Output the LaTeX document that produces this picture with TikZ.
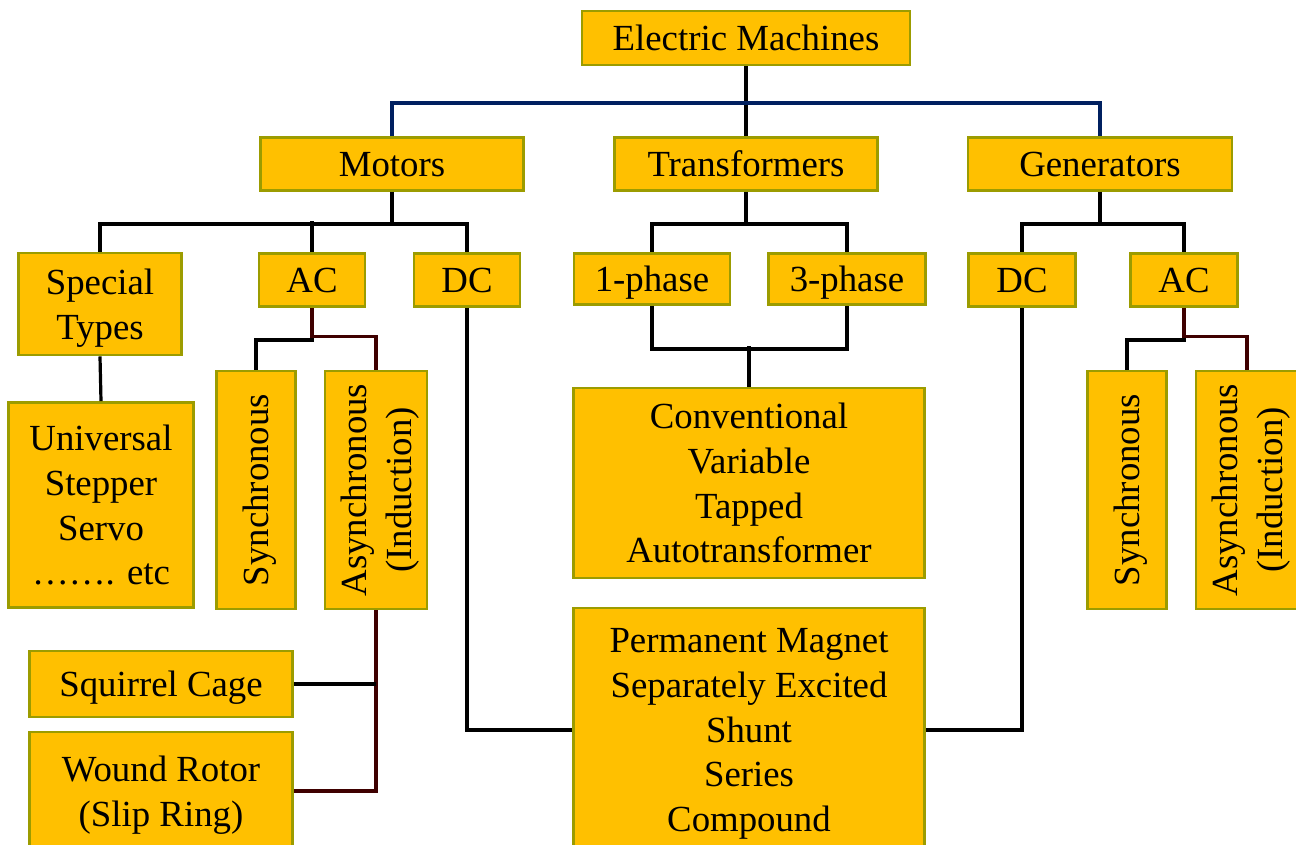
\documentclass[tikz,border=0pt]{standalone}
\usepackage{fontspec}
\setmainfont{Liberation Serif}
\usepackage{tikz}
\usetikzlibrary{calc}
\definecolor{boxfill}{HTML}{FFC000}
\definecolor{boxedge}{HTML}{9C9C00}
\definecolor{linkblue}{HTML}{002060}
\definecolor{linkred}{HTML}{3F0000}

\begin{document}
\begin{tikzpicture}[x=0.75pt, y=-0.75pt,
  font=\fontsize{27.6}{33.4}\selectfont,
  box/.style 2 args={draw=boxedge, fill=boxfill, line width=2.2pt, inner sep=0pt,
               text depth=0pt, minimum width=#1*0.75pt, minimum height=#2*0.75pt, align=center},
  vbox/.style 2 args={box={#2}{#1}, rotate=90},
  link/.style={draw=black, line width=2.4pt},
  toplink/.style={link, draw=linkblue},
  asynlink/.style={link, draw=linkred}]
\path[use as bounding box, clip] (0,0) rectangle (1296,844);
% top levels
\node[box={328}{54}]  (em)     at (746,38)    {Electric Machines};
\node[box={263}{53}]  (motors) at (392,164)   {Motors};
\node[box={263}{53}]  (trans)  at (746,164)   {Transformers};
\node[box={264}{53}]  (gens)   at (1100,164)  {Generators};
% motors
\node[box={163}{102}] (stypes) at (100,304)   {Special\\Types};
\node[box={106}{53}]  (acm)    at (312,280)   {AC};
\node[box={106}{53}]  (dcm)    at (467,280)   {DC};
\node[box={185}{205}] (univ)   at (101,505)   {Universal\\Stepper\\Servo\\……. etc};
\node[vbox={79}{238}] (synm)   at (256,490)   {Synchronous};
\node[vbox={102}{238}] (asynm) at (376,490)   {Asynchronous\\(Induction)};
\node[box={263}{66}]  (squir)  at (161,684)   {Squirrel Cage};
\node[box={263}{118}] (wound)  at (161,791)   {Wound Rotor\\(Slip Ring)};
% transformers
\node[box={156}{51}]  (onep)   at (652,279)   {1-phase};
\node[box={157}{51}]  (threep) at (847,279)   {3-phase};
\node[box={351}{190}] (conv)   at (749,483)   {Conventional\\Variable\\Tapped\\Autotransformer};
\node[box={351}{244}] (pm)     at (749,730)   {Permanent Magnet\\Separately Excited\\Shunt\\Series\\Compound};
% generators
\node[box={107}{53}]  (dcg)    at (1022,280)  {DC};
\node[box={107}{53}]  (acg)    at (1184,280)  {AC};
\node[vbox={79}{238}] (syng)   at (1127,490)  {Synchronous};
\node[vbox={102}{238}] (asyng) at (1247,490)  {Asynchronous\\(Induction)};

% connectors (rotated boxes: east = top, west = bottom)
\draw[link] (em.south) -- (trans.north);
\draw[toplink] (motors.north) -- ++(0,-33) -| (gens.north);
\draw[link] (motors.south) -- ++(0,32) -| (stypes.north);
\draw[link] (motors.south) -- ++(0,32) -| (dcm.north);
\draw[link] (acm.north) -- ++(0,-31);
\draw[link] (stypes.south) -- (univ.north);
\draw[link] (acm.south) -- ++(0,32) -| (synm.east);
\draw[asynlink] (asynm.east) -- ++(0,-33) -| (acm.south);
\draw[asynlink] (asynm.west) |- (wound.east);
\draw[link] (squir.east) -- (squir.east -| asynm.west);
\draw[link] (dcm.south) |- (pm.west);
\draw[link] (trans.south) -- ++(0,32) -| (onep.north);
\draw[link] (trans.south) -- ++(0,32) -| (threep.north);
\draw[link] (onep.south) -- ++(0,43) -| (threep.south);
\draw[link] (conv.north) -- ++(0,-41);
\draw[link] (gens.south) -- ++(0,32) -| (dcg.north);
\draw[link] (gens.south) -- ++(0,32) -| (acg.north);
\draw[link] (acg.south) -- ++(0,32) -| (syng.east);
\draw[asynlink] (asyng.east) -- ++(0,-33) -| (acg.south);
\draw[link] (dcg.south) |- (pm.east);
\end{tikzpicture}
\end{document}
